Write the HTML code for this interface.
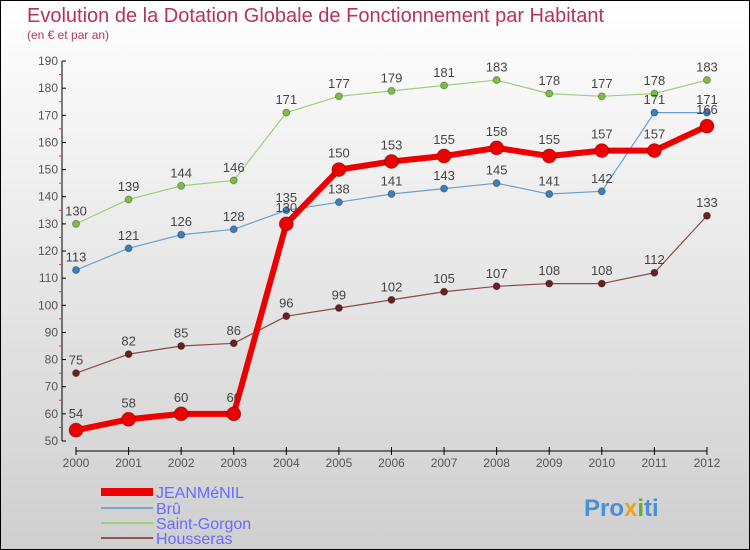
<!DOCTYPE html>
<html><head><meta charset="utf-8"><style>
body{margin:0}
#c{width:748px;height:548px;border:1px solid #000;background:linear-gradient(#fff,#cfcfcf);position:relative;overflow:hidden;font-family:"Liberation Sans","DejaVu Sans",sans-serif}
</style></head><body>
<div id="c">
<svg id="s" width="748" height="548">
<text x="26" y="21" font-size="20" fill="#b8325f">Evolution de la Dotation Globale de Fonctionnement par Habitant</text>
<text x="26" y="38" font-size="12" fill="#b8325f">(en € et par an)</text>
<g id="axes"></g><g id="series"></g>
<g>
<line x1="100" y1="491" x2="152" y2="491" stroke="#e00" stroke-width="8"/>
<text x="155" y="497" font-size="16" fill="#6a6aff">JEANMéNIL</text>
<line x1="100" y1="507" x2="152" y2="507" stroke="#7aa6c8" stroke-width="2"/>
<text x="155" y="513" font-size="16" fill="#6a6aff">Brû</text>
<line x1="100" y1="522" x2="152" y2="522" stroke="#9ed07a" stroke-width="2"/>
<text x="155" y="528" font-size="16" fill="#6a6aff">Saint-Gorgon</text>
<line x1="100" y1="537" x2="152" y2="537" stroke="#8a5a5a" stroke-width="2"/>
<text x="155" y="543" font-size="16" fill="#6a6aff">Housseras</text>
</g>
<text x="583" y="515" font-size="24" font-weight="bold" fill="#4a90d8">Pro<tspan fill="#f0a020">x</tspan><tspan fill="#60b030">i</tspan>ti</text>
</svg></div>
<script>
const years=[2000,2001,2002,2003,2004,2005,2006,2007,2008,2009,2010,2011,2012];
const jeanmenil=[54,58,60,60,130,150,153,155,158,155,157,157,166];
const bru=[113,121,126,128,135,138,141,143,145,141,142,171,171];
const saintGorgon=[130,139,144,146,171,177,179,181,183,178,177,178,183];
const housseras=[75,82,85,86,96,99,102,105,107,108,108,112,133];
const yTicks=[50,60,70,80,90,100,110,120,130,140,150,160,170,180,190];
const NS="http://www.w3.org/2000/svg";
const X=i=>75+i*52.58, Y=v=>440-(v-50)*2.714;
function mk(t,a,p){const e=document.createElementNS(NS,t);for(const k in a)e.setAttribute(k,a[k]);p.appendChild(e);return e;}
const ax=document.getElementById('axes'), sg=document.getElementById('series');
const yl=mk('line',{x1:61,y1:Y(190),x2:61,y2:Y(50),stroke:'#000'},ax);


yTicks.forEach((v,k)=>{
 mk('line',{x1:61,y1:Y(v),x2:65,y2:Y(v),stroke:'#000'},ax);
 if(k<yTicks.length-1) mk('line',{x1:58,y1:Y(v+5),x2:61,y2:Y(v+5),stroke:'#e33'},ax);
 const t=mk('text',{x:57,y:Y(v)+4,'font-size':12,fill:'#555','text-anchor':'end'},ax);t.textContent=v;
 
 
});
const xl=mk('line',{x1:X(0),y1:450,x2:X(12),y2:450,stroke:'#000'},ax);


years.forEach((y,i)=>{
 mk('line',{x1:X(i),y1:446,x2:X(i),y2:454,stroke:'#000'},ax);
 const t=mk('text',{x:X(i),y:466,'font-size':12,fill:'#555','text-anchor':'middle'},ax);t.textContent=y;
 
 
});
function series(d,col,dot,w,r,name){
 const g=mk('g',{},sg);
 
 
 mk('polyline',{points:d.map((v,i)=>X(i)+','+Y(v)).join(' '),fill:'none',stroke:col,'stroke-width':w,'stroke-linejoin':'round'},g);
 d.forEach((v,i)=>{
  const c=mk('circle',{cx:X(i),cy:Y(v),r:r,fill:dot,stroke:'rgba(0,0,0,0.3)'},g);
  
  
  const t=mk('text',{x:X(i),y:Y(v)-(r+5),'font-size':13,fill:'#444','text-anchor':'middle'},g);t.textContent=v;
  
  
 });
}
series(housseras,'#8a4a4a','#6a2020',1.2,3.5,'series-housseras');
series(saintGorgon,'#9ed07a','#7ac040',1.2,3.5,'series-saint-gorgon');
series(bru,'#6aa0d0','#3a80c0',1.2,3.5,'series-bru');
series(jeanmenil,'#e00','#e00',6,7,'series-jeanmenil');
</script>
</body></html>
